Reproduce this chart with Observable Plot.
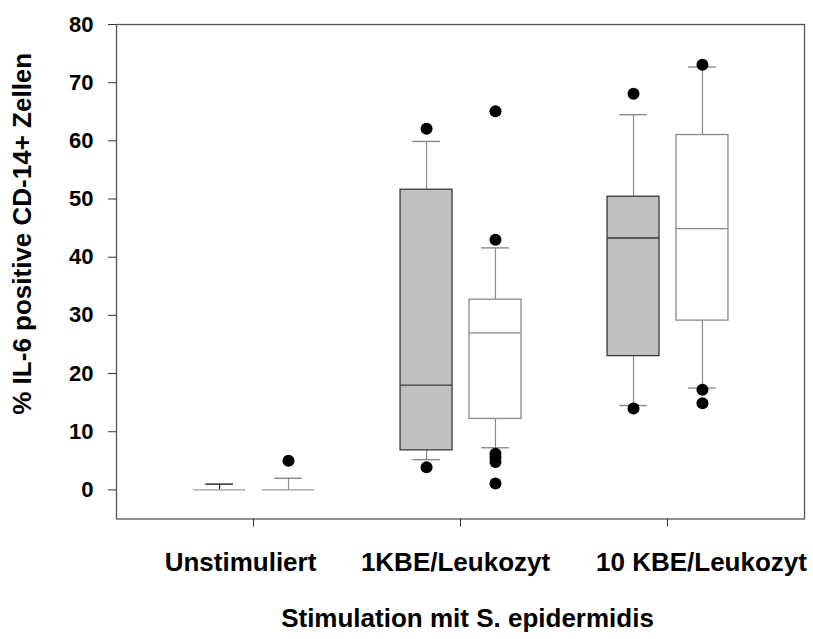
<!DOCTYPE html>
<html>
<head>
<meta charset="utf-8">
<script src="https://cdn.jsdelivr.net/npm/d3@7"></script>
<script src="https://cdn.jsdelivr.net/npm/@observablehq/plot@0.6"></script>
<style>
  html, body { margin: 0; padding: 0; background: #fff; }
  #chart svg { display: block; }
</style>
</head>
<body>
<div id="chart"></div>
<script>
// ---- data ----
const categories = ["Unstimuliert", "1KBE/Leukozyt", "10 KBE/Leukozyt"];
const seriesNames = ["Gruppe grau", "Gruppe weiß"];

const greyLow    = [0,   5.2, 14.5];
const greyQ1     = [0,   6.8, 23.0];
const greyMedian = [0,  18.0, 43.3];
const greyQ3     = [0,  51.6, 50.4];
const greyHigh   = [1.0, 59.9, 64.5];
const greyOutliers = [[], [62.1, 3.9], [68.1, 14.0]];

const whiteLow    = [0,   7.25, 17.5];
const whiteQ1     = [0,  12.2, 29.1];
const whiteMedian = [0,  27.0, 44.9];
const whiteQ3     = [0,  32.7, 61.0];
const whiteHigh   = [2.0, 41.6, 72.7];
const whiteOutliers = [[5.0], [65.1, 43.0, 6.2, 5.6, 4.8, 1.1], [73.1, 17.2, 14.9]];

const yTicks = [0, 10, 20, 30, 40, 50, 60, 70, 80];
const xTitle = "Stimulation mit S. epidermidis";
const yTitle = "% IL-6 positive CD-14+ Zellen";

// ---- build tables ----
const seriesOffset = [-0.164, 0.169];
const boxHalf = 0.1256;
const capHalf = 0.067;
const seriesFill = ["#c0c0c0", "#ffffff"];
const seriesStroke = ["#3a3a3a", "#8a8a8a"];

const stats = [
  {low: greyLow, q1: greyQ1, med: greyMedian, q3: greyQ3, high: greyHigh, out: greyOutliers},
  {low: whiteLow, q1: whiteQ1, med: whiteMedian, q3: whiteQ3, high: whiteHigh, out: whiteOutliers}
];
const boxes = [];
const outliers = [];
categories.forEach((c, i) => {
  stats.forEach((s, k) => {
    const pos = i + 1 + seriesOffset[k];
    boxes.push({category: c, series: seriesNames[k], k, i, pos,
      low: s.low[i], q1: s.q1[i], med: s.med[i], q3: s.q3[i], high: s.high[i]});
    s.out[i].forEach(v => outliers.push({category: c, series: seriesNames[k], pos, value: v}));
  });
});

const font = "'Liberation Sans', Arial, Helvetica, sans-serif";
const labelShift = [-13, -5, 34];
const whiskerColor = d => (d.q3 === d.q1 && d.k === 0) ? "#222" : "#8a8a8a";

const plot = Plot.plot({
  width: 813,
  height: 639,
  marginTop: 24,
  marginRight: 9,
  marginBottom: 120.5,
  marginLeft: 116,
  style: {fontFamily: font, color: "#000", background: "#fff"},
  x: {domain: [0.338, 3.662], axis: null},
  y: {domain: [-5, 80], axis: null},
  marks: [
    // whiskers
    Plot.ruleX(boxes.filter(d => d.high > d.q3), {x: "pos", y1: "q3", y2: "high", stroke: whiskerColor, strokeWidth: 1.2}),
    Plot.ruleX(boxes.filter(d => d.low < d.q1), {x: "pos", y1: "low", y2: "q1", stroke: whiskerColor, strokeWidth: 1.2}),
    Plot.ruleY(boxes.filter(d => d.high > d.q3), {y: "high", x1: d => d.pos - capHalf, x2: d => d.pos + capHalf, stroke: whiskerColor, strokeWidth: 1.4}),
    Plot.ruleY(boxes.filter(d => d.low < d.q1), {y: "low", x1: d => d.pos - capHalf, x2: d => d.pos + capHalf, stroke: whiskerColor, strokeWidth: 1.4}),
    // boxes
    Plot.rect(boxes.filter(d => d.q3 > d.q1), {
      x1: d => d.pos - boxHalf, x2: d => d.pos + boxHalf, y1: "q1", y2: "q3",
      fill: d => seriesFill[d.k], stroke: d => seriesStroke[d.k], strokeWidth: 1.3
    }),
    // medians
    Plot.ruleY(boxes, {y: "med", x1: d => d.pos - boxHalf, x2: d => d.pos + boxHalf,
      stroke: d => d.q3 > d.q1 ? seriesStroke[d.k] : "#9a9a9a", strokeWidth: 1.3}),
    // outliers
    Plot.dot(outliers, {x: "pos", y: "value", r: 6, fill: "#000", stroke: "none"}),
    // frame
    Plot.frame({stroke: "#555", strokeWidth: 1.3}),
    // axes
    Plot.axisY({ticks: yTicks, tickSize: 8, tickPadding: 15, fontSize: 22, fontWeight: "bold", label: null, stroke: "#333"}),
    Plot.axisX({ticks: [1, 2, 3], tickSize: 8, tickFormat: () => "", label: null, stroke: "#333"}),
    ...categories.map((c, i) => Plot.text([c], {
      x: () => i + 1, frameAnchor: "bottom", dy: 52, dx: labelShift[i],
      fontSize: 26, fontWeight: "bold", fill: "#000"
    })),
    Plot.text([xTitle], {frameAnchor: "bottom", dy: 108, dx: 7, fontSize: 26, fontWeight: "bold", fill: "#000"}),
    Plot.text([yTitle], {frameAnchor: "left", textAnchor: "middle", rotate: -90, dx: -93.5, dy: -38, fontSize: 26, fontWeight: "bold", fill: "#000"})
  ]
});
document.getElementById("chart").appendChild(plot);
</script>
</body>
</html>
